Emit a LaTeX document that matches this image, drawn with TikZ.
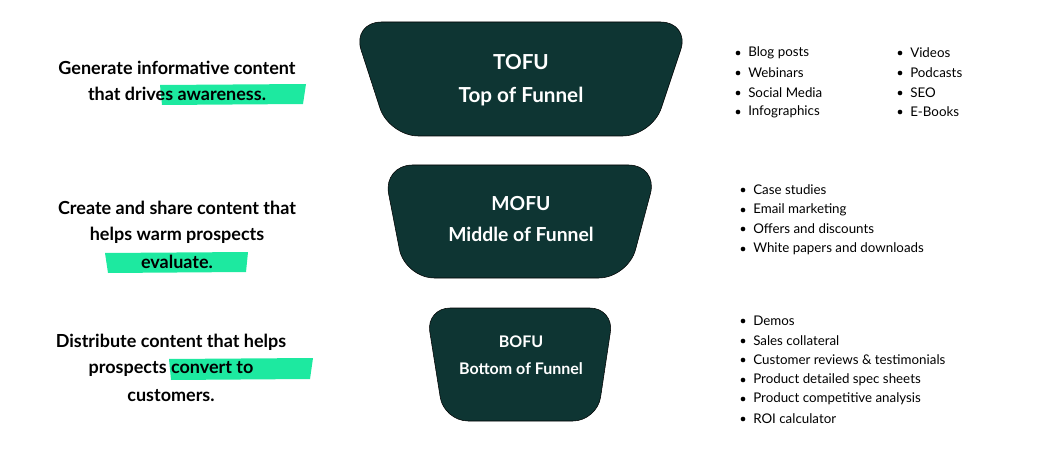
\documentclass[tikz,border=0pt]{standalone}
\usepackage{fontspec}
\setmainfont{Lato}
\definecolor{funnel}{HTML}{0E3533}
\definecolor{mark}{HTML}{1DE9A0}
\tikzset{
  stage/.style={fill=funnel, rounded corners=22},
  ttl/.style={text=white, font=\bfseries, align=center, inner sep=0.75pt},
  lead/.style={font=\fontsize{13.5}{20}\selectfont\bfseries, text=black, inner sep=0.75pt},
  item/.style={font=\fontsize{10}{12}\selectfont, anchor=west, inner sep=0.75pt},
  dot/.style={circle, fill=black, inner sep=0pt, minimum size=3.5pt},
  brush/.style={fill=mark}
}
\newcommand{\bulletitem}[3]{\node[dot] at (#1,#2) {}; \node[item] at (#1+9,#2) {#3};}
\begin{document}
\begin{tikzpicture}[x=0.75pt,y=0.75pt,yscale=-1,xscale=1]
\useasboundingbox (0,0) rectangle (1040,453);

% funnel stages
\draw[stage] (352,22) -- (690,22) -- (652,136) -- (389,136) -- cycle;
\draw[stage] (383,165) -- (658,165) -- (628,278) -- (405,278) -- cycle;
\draw[stage, rounded corners=18] (426,308) -- (614,308) -- (597,421) -- (444,421) -- cycle;

\node[ttl, font=\fontsize{15.5}{25}\selectfont\bfseries] (tofu) at (521,80) {TOFU\\Top of Funnel};
\node[ttl, font=\fontsize{14.5}{23}\selectfont\bfseries] (mofu) at (521,219) {MOFU\\Middle of Funnel};
\node[ttl, font=\fontsize{12}{20}\selectfont\bfseries] (bofu) at (521,355) {BOFU\\Bottom of Funnel};

% highlights
\fill[brush] (160,85) -- (306,84) -- (303,104) -- (162,105) -- cycle;
\fill[brush] (105,253) -- (248,252) -- (246,272) -- (108,273) -- cycle;
\fill[brush] (169,359) -- (313,358) -- (310,379) -- (171,380) -- cycle;

% left texts
\node[lead] (t1a) at (177,68) {Generate informative content};
\node[lead] (t1b) at (177,94) {that drives awareness.};
\node[lead] (t2a) at (177,208) {Create and share content that};
\node[lead] (t2b) at (177,235) {helps warm prospects};
\node[lead] (t2c) at (177,262) {evaluate.};
\node[lead] (t3a) at (171,342) {Distribute content that helps};
\node[lead] (t3b) at (171,369) {prospects convert to};
\node[lead] (t3c) at (171,396) {customers.};

% right lists
\bulletitem{738}{53}{Blog posts}
\bulletitem{738}{73}{Webinars}
\bulletitem{738}{93}{Social Media}
\bulletitem{738}{112}{Infographics}
\bulletitem{900}{53}{Videos}
\bulletitem{900}{73}{Podcasts}
\bulletitem{900}{93}{SEO}
\bulletitem{900}{112}{E-Books}

\bulletitem{743}{190}{Case studies}
\bulletitem{743}{210}{Email marketing}
\bulletitem{743}{229}{Offers and discounts}
\bulletitem{743}{249}{White papers and downloads}

\bulletitem{743}{321}{Demos}
\bulletitem{743}{341}{Sales collateral}
\bulletitem{743}{360}{Customer reviews \& testimonials}
\bulletitem{743}{380}{Product detailed spec sheets}
\bulletitem{743}{399}{Product competitive analysis}
\bulletitem{743}{419}{ROI calculator}
\end{tikzpicture}
\end{document}
